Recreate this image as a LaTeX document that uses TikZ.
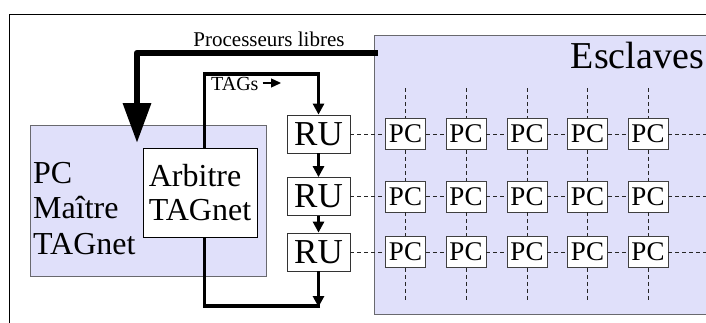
\documentclass[tikz,border=0pt]{standalone}
\usepackage{fontspec}
\setmainfont{Liberation Serif}
\usetikzlibrary{arrows.meta}
\definecolor{lav}{RGB}{224,224,250}
\definecolor{edgegray}{RGB}{105,105,110}
\begin{document}
\begin{tikzpicture}[x=1pt,y=-1pt,
  zone/.style={draw=edgegray,fill=lav,line width=0.9pt,inner sep=0pt,anchor=north west},
  rubox/.style={draw=black!80,fill=white,line width=0.8pt,minimum width=63pt,minimum height=38pt,inner sep=0pt,font=\fontsize{35}{35}\selectfont},
  pcbox/.style={draw=black!75,fill=white,line width=0.8pt,minimum width=40pt,minimum height=31pt,inner sep=0pt,font=\fontsize{27}{27}\selectfont},
  gridline/.style={dash pattern=on 4pt off 3pt,line width=0.7pt,black!85},
  bus/.style={line width=3.5pt,line join=miter},
  tip/.style={-{Triangle[width=11pt,length=11pt]}},
]
\useasboundingbox (0,0) rectangle (706,322);
\clip (0,0) rectangle (706,322);
% outer frame (partly visible)
\draw[line width=1pt] (9,14) rectangle (760,380);

% zones
\node[zone,minimum width=370pt,minimum height=279pt] (esc) at (374,35) {};
\node[anchor=base east,inner sep=0pt,font=\fontsize{38}{38}\selectfont] (esct) at (704,68) {Esclaves};
\node[zone,minimum width=236pt,minimum height=151pt] (master) at (30,125) {};
\node[anchor=north west,inner sep=0pt,align=left,font=\fontsize{32}{35.5}\selectfont] (mtext) at (33,162) {PC\\Maître\\TAGnet};
\node[draw=black,fill=white,line width=0.8pt,minimum width=114pt,minimum height=89pt,inner sep=0pt,align=left,font=\fontsize{32}{34}\selectfont] (arb) at (200,192.5) {Arbitre\\TAGnet};

% RU column
\node[rubox] (ru1) at (318.5,134) {RU};
\node[rubox] (ru2) at (318.5,196.5) {RU};
\node[rubox] (ru3) at (318.5,252) {RU};

% PC grid
\foreach \r/\y in {1/134,2/196.5,3/252}{
  \foreach \c/\x in {1/405.5,2/466,3/527,4/587.5,5/648}{
    \node[pcbox] (pc\r\c) at (\x,\y) {PC};
  }
  \coordinate (rend\r) at (712,\y);
}
\foreach \c/\x in {1/405.5,2/466,3/527,4/587.5,5/648}{
  \coordinate (ctop\c) at (\x,88);
  \coordinate (cbot\c) at (\x,301);
  \draw[gridline] (ctop\c) -- (pc1\c.north);
  \draw[gridline] (pc1\c.south) -- (pc2\c.north);
  \draw[gridline] (pc2\c.south) -- (pc3\c.north);
  \draw[gridline] (pc3\c.south) -- (cbot\c);
}
\foreach \r in {1,2,3}{
  \draw[gridline] (ru\r.east) -- (pc\r1.west);
  \draw[gridline] (pc\r1.east) -- (pc\r2.west);
  \draw[gridline] (pc\r2.east) -- (pc\r3.west);
  \draw[gridline] (pc\r3.east) -- (pc\r4.west);
  \draw[gridline] (pc\r4.east) -- (pc\r5.west);
  \draw[gridline] (pc\r5.east) -- (rend\r);
}

% Processeurs libres
\coordinate (pl) at (378,53);
\coordinate (plend) at (137,143);
\draw[line width=6.5pt,line join=round,-{Triangle[width=27pt,length=40pt]}] (pl) -- (pl -| plend) -- (plend);
\node[anchor=base,inner sep=0pt,font=\fontsize{21}{21}\selectfont] (pll) at (269,46) {Processeurs libres};

% TAGs bus
\coordinate (tx) at (204.5,74);
\draw[bus,tip] (arb.north -| tx) -- (tx) -- (tx -| ru1) -- (ru1.north);
\node[anchor=base west,inner sep=0pt,font=\fontsize{20}{20}\selectfont] (tags) at (211,90) {TAGs};
\coordinate (tagsarrow) at (281,83);
\draw[line width=1.3pt,-{Triangle[width=9pt,length=10pt]}] ([xshift=4pt]tags.east |- tagsarrow) -- (tagsarrow);

% RU chain
\draw[bus,tip] (ru1) -- (ru2);
\draw[bus,tip] (ru2) -- (ru3);
\coordinate (loopr) at (318.5,306);
\coordinate (looprr) at (320.2,306);
\draw[bus,tip] (ru3) -- ([yshift=-1pt]loopr);
\draw[bus] (looprr) -- (looprr -| tx) -- (arb.south -| tx);
\end{tikzpicture}
\end{document}
